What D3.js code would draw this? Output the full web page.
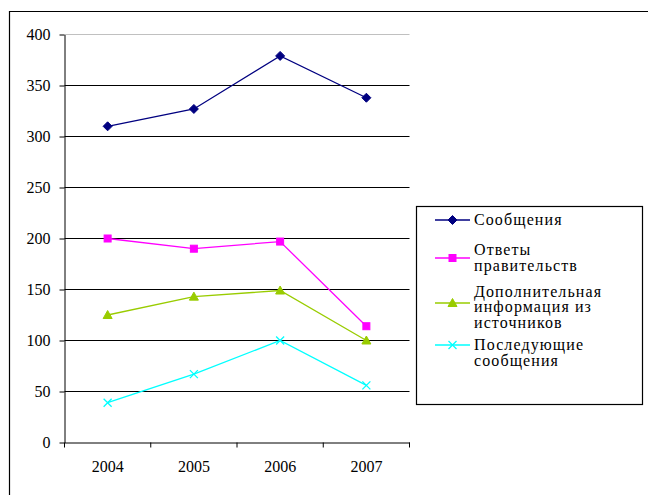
<!DOCTYPE html>
<html>
  <head>
    <meta charset="UTF-8">
    <script src="https://d3js.org/d3.v7.min.js"></script>
    <style>
      body { margin: 0; background: #fff; }
      #svg { display: block; }
    </style>
    <title>Сообщения</title>
  </head>
  <body>
    <svg id="svg" width="648" height="495"></svg>
    <script>
      // ---- data ----
      const years = ["2004", "2005", "2006", "2007"];
      const yTicks = [0, 50, 100, 150, 200, 250, 300, 350, 400];

      const soobshcheniya = [310, 327, 379, 338];
      const otvety = [200, 190, 197, 114];
      const dopInfo = [125, 143, 149, 100];
      const posleduyushchie = [39, 67, 100, 56];

      const seriesNames = [
        ["Сообщения"],
        ["Ответы", "правительств"],
        ["Дополнительная", "информация из", "источников"],
        ["Последующие", "сообщения"]
      ];
      const seriesColors = ["#000080", "#FF00FF", "#99CC00", "#00FFFF"];
      const seriesMarkers = ["diamond", "square", "triangle", "cross"];

      const allSeries = [soobshcheniya, otvety, dopInfo, posleduyushchie].map((vals, i) => ({
        name: seriesNames[i], color: seriesColors[i], marker: seriesMarkers[i],
        values: vals.map((v, j) => ({year: years[j], value: v}))
      }));

      // ---- setup ----
      const svg = d3.select("svg#svg");
      const plot = {left: 64.5, right: 409.5, top: 34.5, bottom: 442.5};
      const serif = "Liberation Serif";

      // outer frame (cropped at right / bottom)
      svg.append("path")
        .attr("d", "M9.5,700 L9.5,11.5 L700,11.5")
        .attr("fill", "none")
        .attr("stroke", "#000")
        .attr("stroke-width", 1.2);

      const xScale = d3.scaleBand().domain(years).range([plot.left, plot.right]).padding(0);
      const yScale = d3.scaleLinear().domain([0, 400]).range([plot.bottom, plot.top]);

      // gridlines
      svg.append("g")
        .selectAll("line")
        .data(yTicks.filter(d => d > 0))
        .enter()
        .append("line")
        .attr("x1", plot.left)
        .attr("x2", plot.right)
        .attr("y1", d => yScale(d))
        .attr("y2", d => yScale(d))
        .attr("stroke", d => d == 400 ? "#c0c0c0" : "#000")
        .attr("stroke-width", 1);

      // y axis
      const leftAxis = d3.axisLeft(yScale).tickValues(yTicks).tickSizeInner(5).tickSizeOuter(0).tickPadding(9);
      const gy = svg.append("g")
        .attr("transform", "translate(" + plot.left + ",0)")
        .call(leftAxis)
        .attr("font-family", serif)
        .attr("font-size", 16);
      gy.selectAll("line, path").attr("stroke", "#000");

      // x axis, ticks at category boundaries
      const bottomAxis = d3.axisBottom(xScale).tickSize(0).tickPadding(18);
      const gx = svg.append("g")
        .attr("transform", "translate(0," + plot.bottom + ")")
        .call(bottomAxis)
        .attr("font-family", serif)
        .attr("font-size", 16);
      gx.select(".domain").attr("stroke", "#000");

      const bounds = years.map(y => xScale(y)).concat([xScale(years[years.length - 1]) + xScale.bandwidth()]);
      gx.selectAll("line.bound")
        .data(bounds)
        .enter()
        .append("line")
        .attr("class", "bound")
        .attr("x1", d => d).attr("x2", d => d)
        .attr("y1", 0).attr("y2", 5)
        .attr("stroke", "#000");

      // marker drawing
      function drawMarker(g, type, color) {
        if (type == "diamond") {
          g.append("path").attr("d", "M0,-4.5 L4.5,0 L0,4.5 L-4.5,0 Z").attr("fill", color).attr("stroke", color);
        } else if (type == "square") {
          g.append("rect").attr("x", -3.5).attr("y", -3.5).attr("width", 7).attr("height", 7).attr("fill", color).attr("stroke", color);
        } else if (type == "triangle") {
          g.append("path").attr("d", "M0,-4.5 L4.5,3.5 L-4.5,3.5 Z").attr("fill", color).attr("stroke", color);
        } else {
          g.append("path").attr("d", "M-4,-4 L4,4 M-4,4 L4,-4").attr("fill", "none").attr("stroke", color).attr("stroke-width", 1.3);
        }
      }

      const cx = d => xScale(d.year) + xScale.bandwidth() / 2;
      const lineGen = d3.line().x(cx).y(d => yScale(d.value));

      allSeries.forEach(s => {
        svg.append("path").datum(s.values)
          .attr("d", lineGen)
          .attr("fill", "none")
          .attr("stroke", s.color)
          .attr("stroke-width", 1.3);
        s.values.forEach(d => {
          const g = svg.append("g").attr("transform", "translate(" + cx(d) + "," + yScale(d.value) + ")");
          drawMarker(g, s.marker, s.color);
        });
      });

      // legend
      const legend = svg.append("g");
      legend.append("rect")
        .attr("x", 416.5).attr("y", 206.5)
        .attr("width", 226).attr("height", 198)
        .attr("fill", "#fff")
        .attr("stroke", "#000")
        .attr("stroke-width", 1.2);

      const entryY = [220, 258, 303, 345];     // symbol row
      const textTop = [220, 250, 291.5, 345];  // first text line centre
      const lineH = 15.6;

      allSeries.forEach((s, i) => {
        const ly = entryY[i];
        legend.append("line")
          .attr("x1", 435).attr("x2", 470)
          .attr("y1", ly).attr("y2", ly)
          .attr("stroke", s.color)
          .attr("stroke-width", 1.3);
        const g = legend.append("g").attr("transform", "translate(452.5," + ly + ")");
        drawMarker(g, s.marker, s.color);
        const t = legend.append("text")
          .attr("font-family", serif)
          .attr("font-size", 16)
          .attr("letter-spacing", 1.1);
        s.name.forEach((ln, k) => {
          t.append("tspan").attr("x", 474).attr("y", textTop[i] + k * lineH).attr("dy", "0.33em").text(ln);
        });
      });
    </script>
  </body>
</html>
